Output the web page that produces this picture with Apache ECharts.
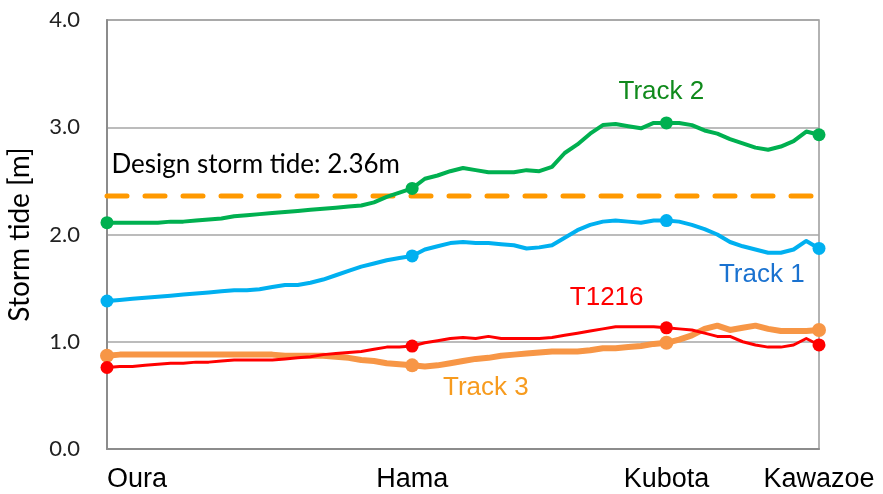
<!DOCTYPE html>
<html>
<head>
<meta charset="utf-8">
<script src="https://cdn.jsdelivr.net/npm/echarts@6/dist/echarts.min.js"></script>
<style>html,body{margin:0;padding:0;background:#fff;}#c{width:883px;height:494px;}</style>
</head>
<body>
<div id="c"></div>
<script>
// Station positions (point index along the coast) and names
const stationIdx = [0, 24, 44, 56];
const stationNames = ['Oura', 'Hama', 'Kubota', 'Kawazoe'];
const yTicks = [0, 1, 2, 3, 4];
const designTide = 2.36;

const track2 = [2.11,2.11,2.11,2.11,2.11,2.12,2.12,2.13,2.14,2.15,2.17,2.18,2.19,2.20,2.21,2.22,2.23,2.24,2.25,2.26,2.27,2.30,2.35,2.39,2.43,2.52,2.55,2.59,2.62,2.60,2.58,2.58,2.58,2.60,2.59,2.63,2.76,2.84,2.94,3.02,3.03,3.01,2.99,3.04,3.04,3.04,3.02,2.97,2.94,2.89,2.85,2.81,2.79,2.82,2.87,2.96,2.93];
const track1 = [1.38,1.39,1.40,1.41,1.42,1.43,1.44,1.45,1.46,1.47,1.48,1.48,1.49,1.51,1.53,1.53,1.55,1.58,1.62,1.66,1.70,1.73,1.76,1.78,1.80,1.86,1.89,1.92,1.93,1.92,1.92,1.91,1.90,1.87,1.88,1.90,1.97,2.04,2.09,2.12,2.13,2.12,2.11,2.13,2.13,2.12,2.09,2.05,2.00,1.93,1.89,1.86,1.83,1.83,1.86,1.94,1.87];
const t1216 = [0.76,0.77,0.77,0.78,0.79,0.80,0.80,0.81,0.81,0.82,0.83,0.83,0.83,0.83,0.84,0.85,0.86,0.88,0.89,0.90,0.91,0.93,0.95,0.95,0.96,0.99,1.01,1.03,1.04,1.03,1.05,1.03,1.03,1.03,1.03,1.04,1.06,1.08,1.10,1.12,1.14,1.14,1.14,1.14,1.13,1.12,1.11,1.08,1.05,1.05,1.00,0.97,0.95,0.95,0.97,1.03,0.97];
const track3 = [0.87,0.88,0.88,0.88,0.88,0.88,0.88,0.88,0.88,0.88,0.88,0.88,0.88,0.88,0.87,0.87,0.87,0.87,0.86,0.85,0.83,0.82,0.80,0.79,0.78,0.77,0.78,0.80,0.82,0.84,0.85,0.87,0.88,0.89,0.90,0.91,0.91,0.91,0.92,0.94,0.94,0.95,0.96,0.98,0.99,1.02,1.06,1.12,1.15,1.11,1.13,1.15,1.12,1.10,1.10,1.10,1.11];

// label anchors [position index, value]
const labelTrack2 = [43.6, 3.33];
const labelTrack1 = [51.5, 1.62];
const labelT1216 = [39.3, 1.41];
const labelTrack3 = [29.8, 0.57];
const labelDesign = [0.35, 2.65];

const chart = echarts.init(document.getElementById('c'));
function pairs(arr){ return arr.map((v,i)=>[i,v]); }
function symSize(size){ return function(v, p){ return stationIdx.indexOf(p.dataIndex) >= 0 ? size : 0; }; }
function textMark(coord, text, color){
  return {
    symbol: 'circle', symbolSize: 0, silent: true,
    label: {show: true, position: 'inside', color: color, fontSize: 26, fontFamily: 'Liberation Sans, Arial, sans-serif'},
    data: [{coord: coord, value: text, label: {formatter: text}}]
  };
}
function lineSeries(name, data, color, width, size, mark){
  return {
    name: name, type: 'line', data: pairs(data), smooth: false,
    showAllSymbol: true, symbol: 'circle', symbolSize: symSize(size),
    itemStyle: {color: color}, lineStyle: {color: color, width: width, join: 'round', cap: 'round'},
    emphasis: {disabled: true}, animation: false,
    markPoint: mark
  };
}
const nameMap = {};
stationIdx.forEach((p,i)=>{ nameMap[p] = stationNames[i]; });

chart.setOption({
  animation: false,
  backgroundColor: '#fff',
  grid: {left: 107, right: 64, top: 20, bottom: 45, containLabel: false, outerBoundsMode: 'none',
         show: true, borderColor: '#9a9a9a', borderWidth: 1.5},
  xAxis: {
    type: 'value', min: 0, max: 56, interval: 4,
    axisLine: {show: true, lineStyle: {color: '#8c8c8c', width: 2}},
    axisTick: {show: false},
    splitLine: {show: false},
    axisLabel: {
      formatter: v => nameMap[v] || '',
      color: '#000', fontSize: 27, fontFamily: 'Liberation Sans, Arial, sans-serif',
      margin: 17, alignMinLabel: 'left', alignMaxLabel: 'center', showMinLabel: true, showMaxLabel: true,
      hideOverlap: false
    }
  },
  yAxis: {
    type: 'value', min: yTicks[0], max: yTicks[yTicks.length-1], interval: 1,
    name: 'Storm tide [m]', nameLocation: 'middle', nameGap: 73, nameRotate: 90,
    nameTextStyle: {color: '#000', fontSize: 28, fontFamily: 'Lato, sans-serif'},
    axisLine: {show: true, lineStyle: {color: '#8c8c8c', width: 2}},
    axisTick: {show: false},
    splitLine: {show: true, lineStyle: {color: '#a6a6a6', width: 1.5}},
    axisLabel: {formatter: v => v.toFixed(1), color: '#222', fontSize: 22, fontFamily: 'Lato, sans-serif', margin: 27}
  },
  series: [
    lineSeries('Track 3', track3, '#f79646', 6, 14, textMark(labelTrack3, 'Track 3', '#f79b1e')),
    lineSeries('T1216', t1216, '#ff0000', 3, 13, textMark(labelT1216, 'T1216', '#ff0000')),
    lineSeries('Track 1', track1, '#00b0f0', 4, 13, textMark(labelTrack1, 'Track 1', '#1a72d0')),
    lineSeries('Track 2', track2, '#00b050', 4, 13, textMark(labelTrack2, 'Track 2', '#108a1c')),
    {
      name: 'Design', type: 'line', data: [[stationIdx[0], designTide], [55.5, designTide]],
      symbol: 'none', animation: false, silent: true, z: 1,
      lineStyle: {color: '#ff9900', width: 5, type: [20, 18], cap: 'round'},
      markPoint: {
        symbol: 'circle', symbolSize: 0, silent: true,
        label: {show: true, position: 'right', color: '#000', fontSize: 26, fontFamily: 'Lato, sans-serif'},
        data: [{coord: labelDesign, value: 'Design storm tide: 2.36m', label: {formatter: 'Design storm tide: 2.36m', distance: 0}}]
      }
    }
  ]
});
</script>
</body>
</html>
